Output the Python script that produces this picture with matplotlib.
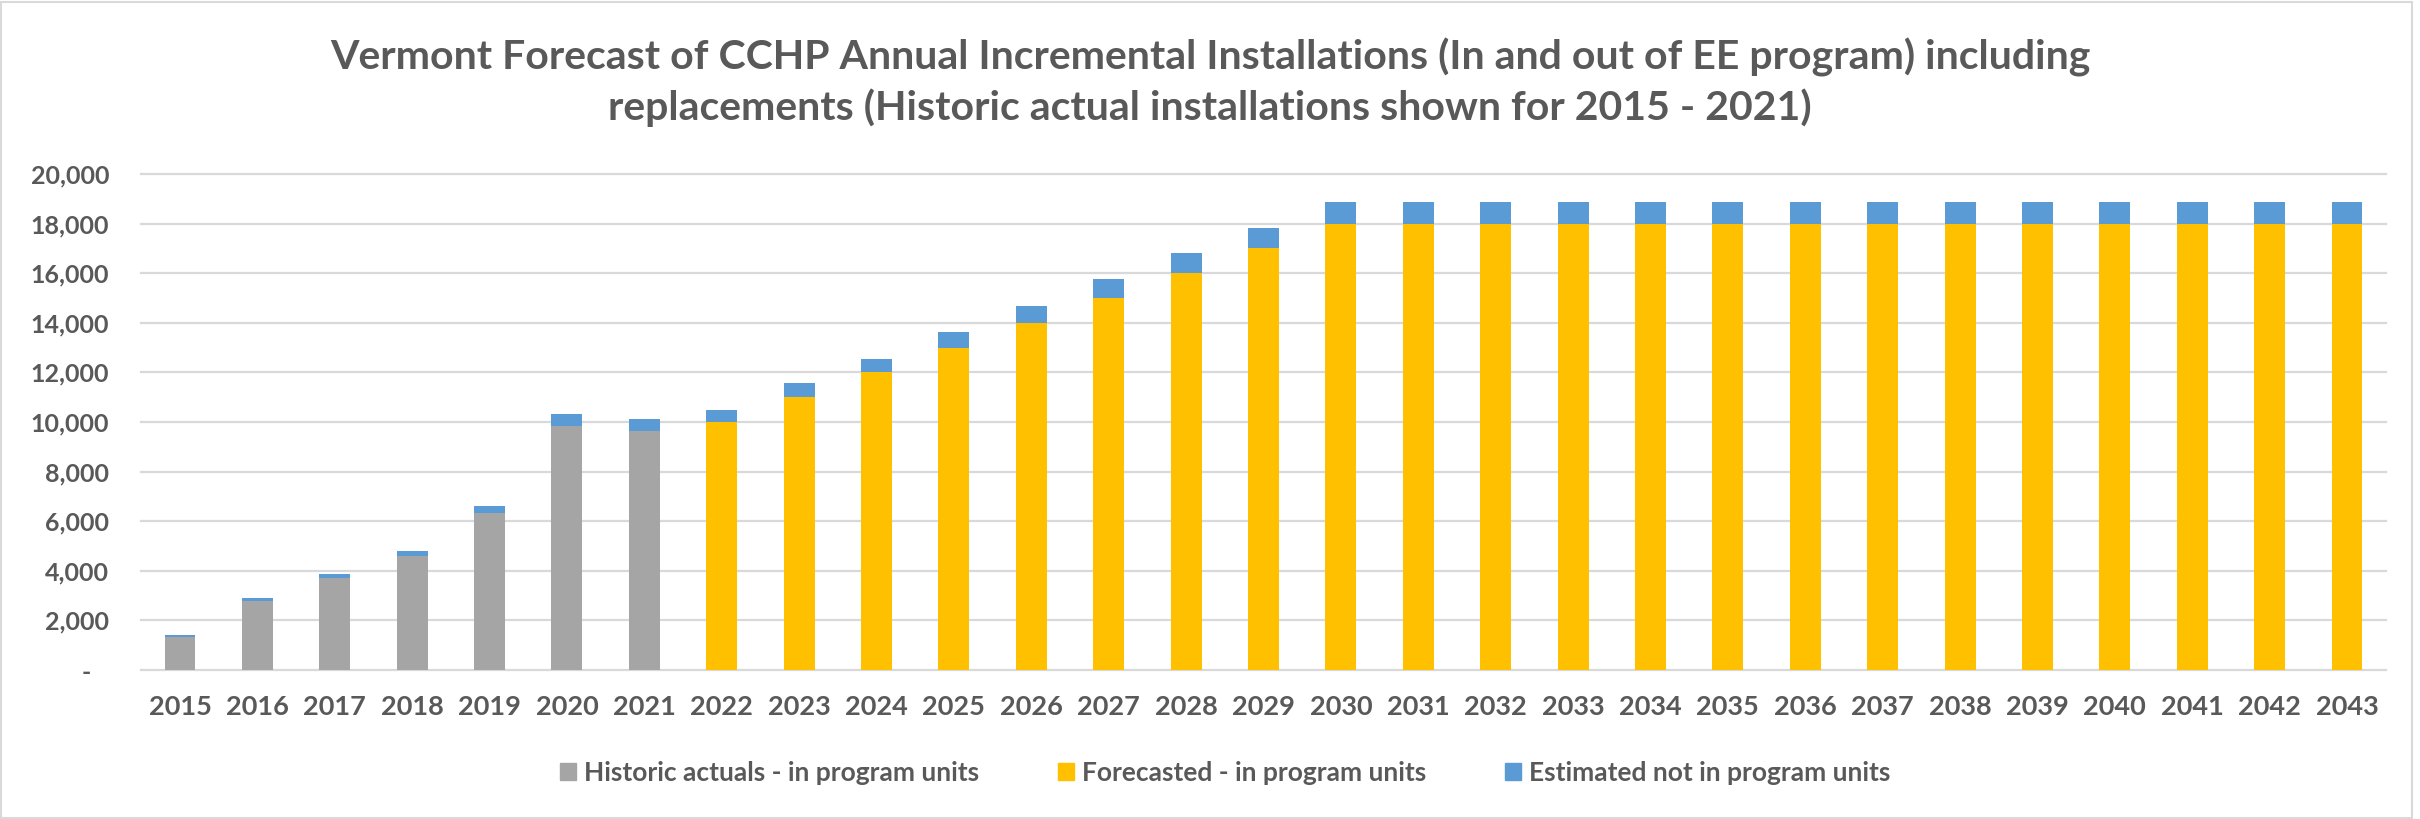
import matplotlib.pyplot as plt
from matplotlib.patches import Patch, Rectangle

years = [str(y) for y in range(2015, 2044)]

# historic actuals 2015-2021, zero afterwards
historic = [1340, 2770, 3700, 4580, 6320, 9820, 9620] + [0] * 22
# forecast in-program 2022-2043
forecast = [0] * 7 + [10000, 11000, 12000, 13000, 14000, 15000, 16000, 17000] + [18000] * 14
# not in program, stacked on top
not_in_program = [55, 115, 190, 230, 300, 500, 520,
                  490, 560, 560, 630, 680, 750, 810, 840] + [870] * 14

yticks = list(range(0, 20001, 2000))
ytick_labels = ["-   "] + ["{:,}".format(v) for v in yticks[1:]]

GRAY = "#A5A5A5"
YELLOW = "#FFC000"
BLUE = "#5B9BD5"
TXT = "#595959"
GRID = "#D9D9D9"

plt.rcParams["font.family"] = ["Lato", "DejaVu Sans"]
plt.rcParams["font.weight"] = "bold"

fig = plt.figure(figsize=(24.2, 8.19), dpi=100)
ax = fig.add_axes([141.3 / 2420, 1 - 670 / 819, (2385.7 - 141.3) / 2420, (670 - 174) / 819])

x = list(range(len(years)))
w = 0.4
base = [h + f for h, f in zip(historic, forecast)]
ax.bar(x, historic, w, color=GRAY, zorder=3)
ax.bar(x, forecast, w, color=YELLOW, zorder=3)
ax.bar(x, not_in_program, w, bottom=base, color=BLUE, zorder=3)

ax.set_xlim(-0.5, len(years) - 0.5)
ax.set_ylim(0, 20000)
ax.set_yticks(yticks)
ax.set_yticklabels(ytick_labels)
ax.set_xticks(x)
ax.set_xticklabels(years)
ax.tick_params(axis="y", length=0, pad=23, labelsize=18, labelcolor=TXT)
ax.tick_params(axis="x", length=0, pad=18, labelsize=19.5, labelcolor=TXT)
ax.yaxis.grid(True, color=GRID, lw=1.6, zorder=0)
for ln in ax.get_ygridlines():
    ln.set_clip_on(False)
for s in ax.spines.values():
    s.set_visible(False)

fig.text(0.5, 1 - 57 / 819,
         "Vermont Forecast of CCHP Annual Incremental Installations (In and out of EE program) including",
         ha="center", va="center", fontsize=29.5, color=TXT, fontweight="bold")
fig.text(0.5, 1 - 108 / 819,
         "replacements (Historic actual installations shown for 2015 - 2021)",
         ha="center", va="center", fontsize=29.5, color=TXT, fontweight="bold")

handles = [Patch(color=GRAY), Patch(color=YELLOW), Patch(color=BLUE)]
labels = ["Historic actuals - in program units", "Forecasted - in program units",
          "Estimated not in program units"]
fig.legend(handles, labels, loc="center", bbox_to_anchor=(1225 / 2420, 1 - 773 / 819),
           ncol=3, frameon=False, fontsize=19, labelcolor=TXT,
           handlelength=0.6, handleheight=0.6, handletextpad=0.3, columnspacing=3.0)

fig.patches.append(Rectangle((0.0005, 0.001), 0.996, 0.997, transform=fig.transFigure,
                             fill=False, edgecolor=GRID, lw=1.5))

fig.savefig("out.png", dpi=100)
